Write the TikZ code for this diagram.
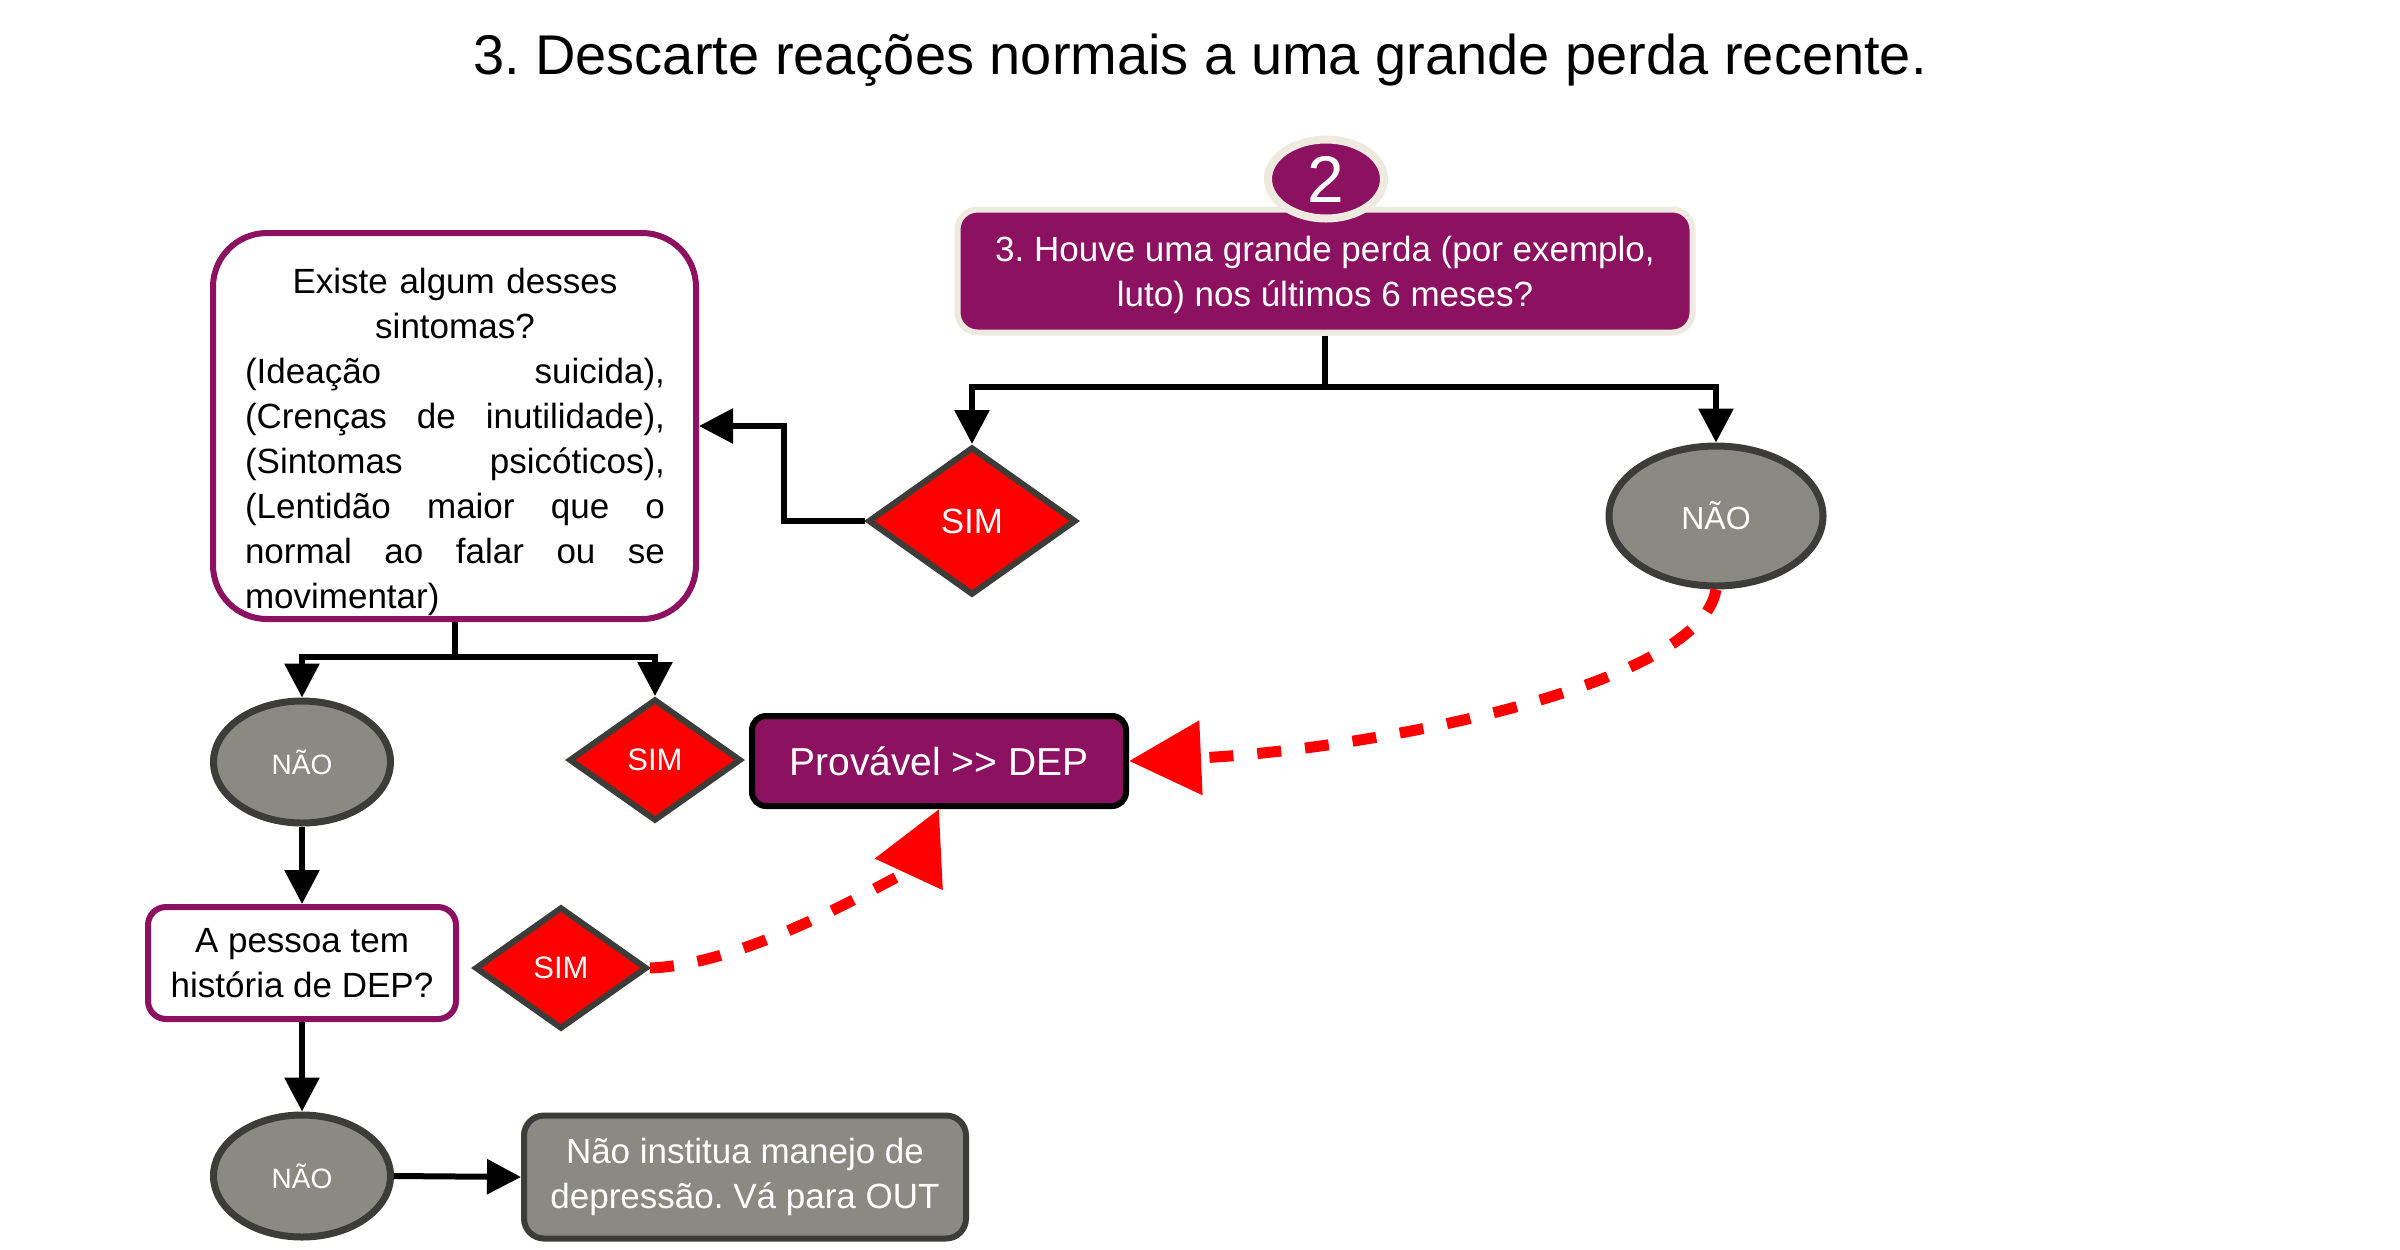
\documentclass[tikz,border=0pt]{standalone}
\usepackage{fontspec}
\setmainfont{Liberation Sans}
\usetikzlibrary{shapes.geometric,arrows.meta}
\definecolor{pur}{RGB}{140,17,96}
\definecolor{gr}{RGB}{138,138,130}
\definecolor{dk}{RGB}{60,60,56}
\definecolor{cream}{RGB}{238,234,224}
\newcommand{\jline}[1]{\leavevmode\hbox to 210pt{#1}}
\frenchspacing
\begin{document}
\begin{tikzpicture}[x=0.5pt,y=-0.5pt,
  boxfont/.style={font=\fontsize{17.5}{22.5}\selectfont},
  plainline/.style={line width=3pt},
  conn/.style={line width=3pt,-{Triangle[length=17pt,width=17pt]}},
  reddash/.style={draw=red,line width=5.5pt,dash pattern=on 12pt off 12pt,-{Triangle[length=36pt,width=36pt]}},
  simbig/.style={diamond,fill=red,draw=dk,line width=3pt,inner sep=0pt,text=white,minimum width=104pt,minimum height=74pt,font=\fontsize{17.5}{20}\selectfont},
  simsmall/.style={diamond,fill=red,draw=dk,line width=3pt,inner sep=0pt,text=white,minimum width=86pt,minimum height=61pt,font=\fontsize{15.5}{18}\selectfont},
  naobig/.style={ellipse,fill=gr,draw=dk,line width=3.5pt,inner sep=0pt,text=white,minimum width=107pt,minimum height=70pt,font=\fontsize{16}{18}\selectfont},
  naosmall/.style={ellipse,fill=gr,draw=dk,line width=3.5pt,inner sep=0pt,text=white,minimum width=88.5pt,minimum height=61pt,font=\fontsize{14}{16}\selectfont}
]
\useasboundingbox (0,0) rectangle (2400,1249);

\node[anchor=base,font=\fontsize{28}{34}\selectfont] (title) at (1200,74) {3. Descarte reações normais a uma grande perda recente.};

\node[boxfont,fill=pur,draw=cream,line width=3pt,text=white,rounded corners=10pt,minimum width=367.5pt,minimum height=61.5pt,align=center,inner ysep=0pt,text depth=0pt] (q3) at (1325,271) {3. Houve uma grande perda (por exemplo,\\luto) nos últimos 6 meses?};
\node[ellipse,fill=pur,draw=cream,line width=4pt,minimum width=58pt,minimum height=39.5pt,inner sep=0pt,text=white,font=\fontsize{33}{36}\selectfont] (badge) at (1326,179) {2};

\node[simbig] (sim1) at (972,521) {SIM};
\node[naobig] (no1) at (1716,516) {NÃO};

\node[draw=pur,fill=white,line width=3pt,rounded corners=27pt,minimum width=241.5pt,minimum height=193pt] (sx) at (454.5,426) {};
\node[boxfont,text width=210pt,align=center,inner sep=0pt] (sxt) at (455,442) {Existe algum desses\\sintomas?\\
\jline{(Ideação\hfill suicida),}\\
\jline{(Crenças\hfill de\hfill inutilidade),}\\
\jline{(Sintomas\hfill psicóticos),}\\
\jline{(Lentidão\hfill maior\hfill que\hfill o}\\
\jline{normal\hfill ao\hfill falar\hfill ou\hfill se}\\
\jline{movimentar)\hfill}};

\node[naosmall] (no2) at (302,762) {NÃO};
\node[simsmall] (sim2) at (655,760) {SIM};
\node[fill=pur,draw=black,line width=3pt,rounded corners=7pt,minimum width=187pt,minimum height=45pt,text=white,font=\fontsize{19.5}{23}\selectfont] (prov) at (939,761) {Provável >\kern0pt> DEP};

\node[boxfont,draw=pur,fill=white,line width=3pt,rounded corners=9pt,minimum width=154pt,minimum height=56pt,align=center] (ap) at (302,963) {A pessoa tem\\história de DEP?};
\node[simsmall] (sim3) at (561,968) {SIM};

\node[naosmall] (no3) at (302,1176) {NÃO};
\node[boxfont,draw=dk,fill=gr,text=white,line width=3pt,rounded corners=10pt,minimum width=221pt,minimum height=61.5pt,align=center] (ni) at (745,1177) {Não institua manejo de\\depressão. Vá para OUT};

% connectors
\coordinate (j1) at (1325,387);
\draw[plainline] (q3.south) -- (j1);
\draw[conn] (j1) -| (sim1.north);
\draw[conn] (j1) -| (no1.north);

\coordinate (k1) at (784,423);
\draw[conn] (sim1.west) -| (k1) |- (sx.east);

\coordinate (j2) at (454.5,657);
\draw[plainline] (sx.south) -- (j2);
\draw[conn] (j2) -| (no2.north);
\draw[conn] (j2) -| (sim2.north);

\draw[conn] (no2.south) -- (ap.north);
\draw[conn] (ap.south) -- (no3.north);
\draw[conn] (no3.east) -- (ni.west);

\draw[reddash] (no1.south) .. controls +(-16,100) and +(225,-10) .. (prov.east);
\draw[reddash] (sim3.east) .. controls +(110,-4) and +(-25,54) .. (prov.south);
\end{tikzpicture}
\end{document}
